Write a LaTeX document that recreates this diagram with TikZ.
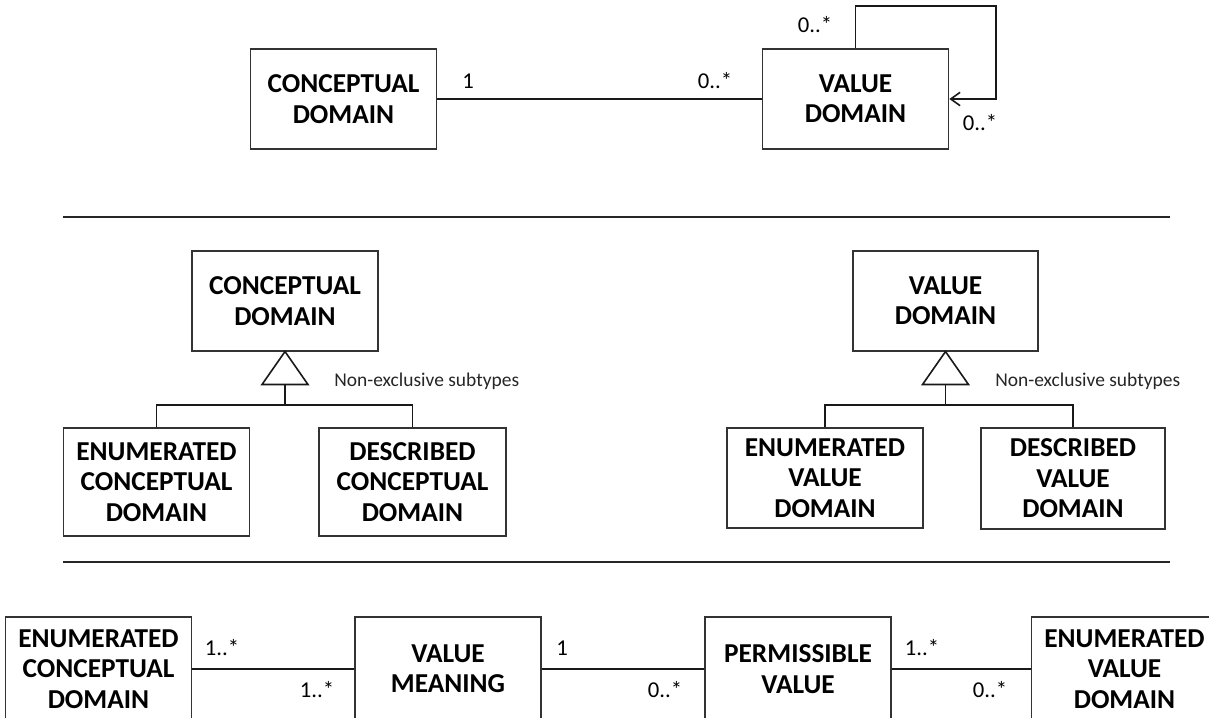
\documentclass[tikz,border=0pt]{standalone}
\usepackage{fontspec}
\setmainfont{Carlito}
\usetikzlibrary{arrows.meta}
\newcommand{\boxfont}{\fontsize{20.5}{22.8}\selectfont\bfseries}
\newcommand{\multfont}{\fontsize{17}{20}\selectfont}
\newcommand{\notefont}{\fontsize{14.6}{17}\selectfont}
\tikzset{
  entity/.style={draw=black!80, line width=0.8pt, align=center, font=\boxfont,
    inner sep=0pt, minimum width=140pt, minimum height=75pt},
  conn/.style={line width=1.2pt, black!90},
  mult/.style={font=\multfont, inner sep=0pt},
  note/.style={font=\notefont, text=black!85, inner sep=0pt, anchor=west},
  sep/.style={line width=1.5pt, black!85},
}
\begin{document}
\begin{tikzpicture}[x=0.75pt, y=-0.75pt]
    \useasboundingbox (0,0) rectangle (1209,717);
    \clip (0,0) rectangle (1209,717);

    % Association (top)
    \node[entity] (cd1) at (343.5,99) {CONCEPTUAL\\DOMAIN};
    \node[entity] (vd1) at (855.5,99) {VALUE\\DOMAIN};
    \coordinate (loop) at (996,6);

    \draw[conn] (cd1) -- (vd1);
    \draw[conn, -{Straight Barb[length=7pt,width=10pt]}] (vd1.north) |- (loop) |- (vd1.east);

    \node[mult] (m1) at (468,81) {1};
    \node[mult] (m2) at (715,81) {0..*};
    \node[mult] (m3) at (815,25) {0..*};
    \node[mult] (m4) at (980,123) {0..*};

    \draw[sep] (63,217) -- (1170,217);

    % Subtypes of conceptual domain (left)
    \node[entity, minimum width=139.5pt] (cd2) at (285,301) {CONCEPTUAL\\DOMAIN};
    \node[entity, minimum height=81pt] (ecd2) at (156.5,482) {ENUMERATED\\CONCEPTUAL\\DOMAIN};
    \node[entity, minimum height=81pt, line width=1.4pt] (dcd2) at (412.5,482) {DESCRIBED\\CONCEPTUAL\\DOMAIN};

    \coordinate (gcd) at (285,384);
    \draw[conn] (cd2.south) -- ++(-23,33) -- ++(46,0) -- cycle;
    \draw[conn] (gcd) -- ++(0,21) coordinate (jcd) -| (ecd2.north);
    \draw[conn] (jcd) -| (dcd2.north);
    \node[note] (n1) at (334,381) {Non-exclusive subtypes};

    % Subtypes of value domain (right)
    \node[entity, minimum width=138.75pt] (vd2) at (945.5,301) {VALUE\\DOMAIN};
    \node[entity, minimum width=147pt] (evd2) at (825,478) {ENUMERATED\\VALUE\\DOMAIN};
    \node[entity, minimum width=138pt, minimum height=75.75pt] (dvd2) at (1073,478.5) {DESCRIBED\\VALUE\\DOMAIN};

    \coordinate (gvd) at (945.5,384);
    \draw[conn] (vd2.south) -- ++(-23,33) -- ++(46,0) -- cycle;
    \draw[conn] (gvd) -- ++(0,21) coordinate (jvd) -| (evd2.north);
    \draw[conn] (jvd) -| (dvd2.north);
    \node[note] (n2) at (995,381) {Non-exclusive subtypes};

    \draw[sep] (63,562) -- (1170,562);

    % Enumerated domains (bottom)
    \node[entity, minimum height=78pt] (ecd3) at (98.5,669) {ENUMERATED\\CONCEPTUAL\\DOMAIN};
    \node[entity, minimum width=139.5pt, minimum height=78pt] (vm3) at (448,669) {VALUE\\MEANING};
    \node[entity, minimum width=139.5pt, minimum height=78pt] (pv3) at (798,669) {PERMISSIBLE\\VALUE};
    \node[entity, minimum height=78pt] (evd3) at (1124.5,669) {ENUMERATED\\VALUE\\DOMAIN};

    \draw[conn] (ecd3) -- (vm3);
    \draw[conn] (vm3) -- (pv3);
    \draw[conn] (pv3) -- (evd3);

    \node[mult] (m5) at (222,648) {1..*};
    \node[mult] (m6) at (317,690) {1..*};
    \node[mult] (m7) at (562,648) {1};
    \node[mult] (m8) at (665,690) {0..*};
    \node[mult] (m9) at (922,648) {1..*};
    \node[mult] (m10) at (990,690) {0..*};
\end{tikzpicture}
\end{document}
